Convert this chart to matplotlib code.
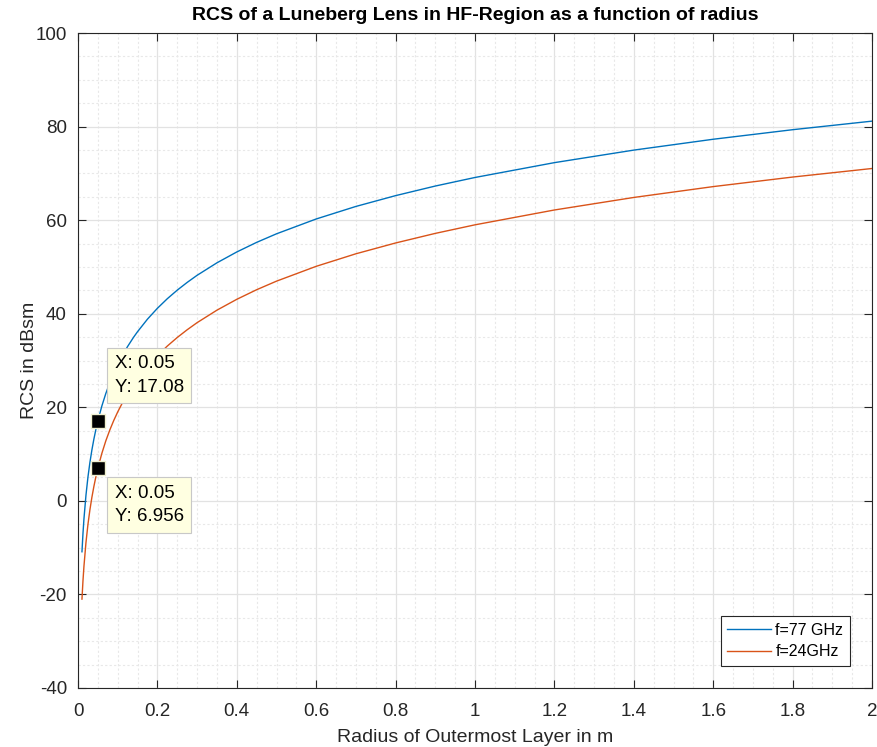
import numpy as np
import matplotlib.pyplot as plt
from matplotlib.ticker import MultipleLocator

# values (radius in m, RCS in dBsm)
radius = [0.01, 0.0125, 0.015, 0.02, 0.025, 0.03, 0.035, 0.04, 0.045, 0.05, 0.06, 0.07,
          0.08, 0.09, 0.1, 0.11, 0.12, 0.125, 0.14, 0.15, 0.175, 0.2, 0.225, 0.25, 0.275,
          0.3, 0.35, 0.4, 0.45, 0.5, 0.6, 0.7, 0.8, 0.9, 1.0, 1.2, 1.4, 1.6, 1.8, 2.0]
rcs_77 = [-10.88, -7.00, -3.84, 1.16, 5.04, 8.21, 10.88, 13.20, 15.25, 17.08, 20.25, 22.93,
          25.24, 27.29, 29.12, 30.78, 32.29, 33.00, 34.97, 36.16, 38.84, 41.16, 43.21, 45.04,
          46.69, 48.21, 50.88, 53.20, 55.25, 57.08, 60.25, 62.93, 65.24, 67.29, 69.12, 72.29,
          74.97, 77.29, 79.33, 81.16]
rcs_24 = [-21.00, -17.12, -13.96, -8.96, -5.08, -1.91, 0.76, 3.08, 5.13, 6.96, 10.13, 12.81,
          15.12, 17.17, 19.00, 20.65, 22.17, 22.88, 24.84, 26.04, 28.72, 31.04, 33.09, 34.92,
          36.57, 38.09, 40.76, 43.08, 45.13, 46.96, 50.13, 52.81, 55.12, 57.17, 59.00, 62.17,
          64.85, 67.17, 69.21, 71.04]
labels = ['f=77 GHz', 'f=24GHz']
tips = [(0.05, 17.08), (0.05, 6.956)]
xtick_labels = ['0', '0.2', '0.4', '0.6', '0.8', '1', '1.2', '1.4', '1.6', '1.8', '2']

plt.rcParams['font.family'] = 'Liberation Sans'
plt.rcParams['axes.unicode_minus'] = False
txt = '#262626'

fig = plt.figure(figsize=(8.77, 7.47), dpi=100)
ax = fig.add_axes([78 / 877, 1 - 688 / 747, (872 - 78) / 877, (688 - 33) / 747])

ax.plot(radius, rcs_77, color='#0072BD', lw=1.0, label=labels[0])
ax.plot(radius, rcs_24, color='#D95319', lw=1.0, label=labels[1])

ax.set_xlim(0, 2)
ax.set_ylim(-40, 100)
ax.set_xticks(np.arange(0, 2.01, 0.2))
ax.set_xticklabels(xtick_labels)
ax.xaxis.set_minor_locator(MultipleLocator(0.05))
ax.yaxis.set_major_locator(MultipleLocator(20))
ax.yaxis.set_minor_locator(MultipleLocator(5))

ax.grid(which='major', color='#e2e2e2', lw=0.9)
ax.grid(which='minor', color='#e8e8e8', lw=0.8, ls=(0, (2, 2)))
ax.set_axisbelow(True)
ax.tick_params(which='major', direction='in', length=6, top=True, right=True,
               labelsize=13.5, colors=txt, width=0.8, pad=8)
ax.tick_params(axis='x', which='major', pad=11)
ax.tick_params(which='minor', length=0)
for s in ax.spines.values():
    s.set_color('#262626')
    s.set_linewidth(0.8)

ax.set_title('RCS of a Luneberg Lens in HF-Region as a function of radius',
             fontsize=14, fontweight='bold', color='black', pad=9)
ax.set_xlabel('Radius of Outermost Layer in m', fontsize=14, color=txt, labelpad=6)
ax.set_ylabel('RCS in dBsm', fontsize=14, color=txt, labelpad=-2)

# data tips
for (tx, ty), off in zip(tips, [(12, 18), (12, -12)]):
    ax.plot(tx, ty, 's', ms=10, mfc='black', mec='#f0f0d0', mew=1, zorder=5)
    va = 'bottom' if off[1] > 0 else 'top'
    ax.annotate('X: %g\nY: %s' % (tx, ty), (tx, ty), xytext=off, textcoords='offset points',
                fontsize=13.5, va=va, ha='left', linespacing=1.5, zorder=6,
                bbox=dict(boxstyle='square,pad=0.4', fc='#ffffe1', ec='#c8c8c8', lw=0.8))

leg = ax.legend(loc='lower right', fontsize=11.5, fancybox=False, framealpha=1,
                edgecolor='#262626', handlelength=2.7, handletextpad=0.3,
                borderaxespad=1.4, labelspacing=0.4)
leg.get_frame().set_linewidth(0.8)

fig.savefig('out.png', dpi=100)
